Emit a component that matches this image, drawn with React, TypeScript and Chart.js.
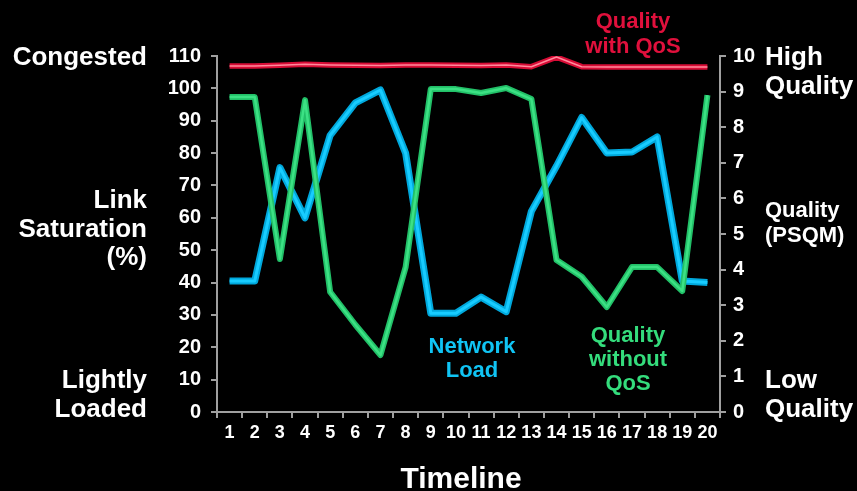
import React, { useEffect, useRef } from "react";
import { Chart, registerables } from "chart.js";

Chart.register(...registerables);

const timeline = ["1","2","3","4","5","6","7","8","9","10","11","12","13","14","15","16","17","18","19","20"];
const networkLoad = [40.5, 40.5, 75.5, 60, 85.5, 95.5, 99.5, 80, 30.5, 30.5, 35.5, 31, 62, 76, 91, 80, 80.3, 85, 40.5, 40];
const qualityWithoutQoS = [8.85, 8.85, 4.3, 8.76, 3.37, 2.45, 1.6, 4.07, 9.07, 9.07, 8.96, 9.1, 8.79, 4.27, 3.8, 2.95, 4.07, 4.07, 3.4, 8.9];
const qualityWithQoS = [9.72, 9.72, 9.74, 9.77, 9.75, 9.74, 9.73, 9.75, 9.75, 9.74, 9.73, 9.75, 9.7, 9.97, 9.7, 9.69, 9.69, 9.69, 9.69, 9.69];
const leftTicks = { min: 0, max: 110, step: 10 };
const rightTicks = { min: 0, max: 10, step: 1 };

const FONT = "'Liberation Sans', Arial, sans-serif";

const textPlugin = {
  id: "annotText",
  afterDraw(chart: any) {
    const ctx = chart.ctx;
    ctx.save();
    const put = (t: string, x: number, y: number, size: number, color: string, align: CanvasTextAlign) => {
      ctx.font = `bold ${size}px ${FONT}`;
      ctx.fillStyle = color;
      ctx.textAlign = align;
      ctx.textBaseline = "alphabetic";
      ctx.fillText(t, x, y);
    };
    const W = "#ffffff";
    put("Congested", 147, 65, 26, W, "right");
    put("Link", 147, 208, 26, W, "right");
    put("Saturation", 147, 237, 26, W, "right");
    put("(%)", 147, 265, 26, W, "right");
    put("Lightly", 147, 388, 26, W, "right");
    put("Loaded", 147, 417, 26, W, "right");
    put("High", 765, 65, 26, W, "left");
    put("Quality", 765, 94, 26, W, "left");
    put("Quality", 765, 217, 22, W, "left");
    put("(PSQM)", 765, 242, 22, W, "left");
    put("Low", 765, 388, 26, W, "left");
    put("Quality", 765, 417, 26, W, "left");
    put("Timeline", 461, 488, 30, W, "center");
    const R = "#E0103C";
    put("Quality", 633, 28, 22, R, "center");
    put("with QoS", 633, 53, 22, R, "center");
    const B = "#10C4F4";
    put("Network", 472, 353, 22, B, "center");
    put("Load", 472, 377, 22, B, "center");
    const G = "#34DC7C";
    put("Quality", 628, 342, 22, G, "center");
    put("without", 628, 366, 22, G, "center");
    put("QoS", 628, 390, 22, G, "center");
    ctx.restore();
  },
};

const bgPlugin = {
  id: "bg",
  beforeDraw(chart: any) {
    const ctx = chart.ctx;
    ctx.save();
    ctx.fillStyle = "#000";
    ctx.fillRect(0, 0, chart.width, chart.height);
    ctx.restore();
  },
};

export default function App() {
  const ref = useRef<HTMLCanvasElement | null>(null);
  useEffect(() => {
    document.body.style.margin = "0";
    document.body.style.background = "#000";
    if (!ref.current) return;
    const xTickFont = { family: FONT, size: 18, weight: "bold" as const };
    const yTickFont = { family: FONT, size: 20, weight: "bold" as const };
    const gray = "#A0A0A0";
    const line = (data: number[], color: string, width: number, axis: string, order: number) => ({
      data,
      borderColor: color,
      backgroundColor: color,
      borderWidth: width,
      pointRadius: 0,
      tension: 0,
      yAxisID: axis,
      order,
      borderJoinStyle: "round" as const,
      borderCapStyle: "butt" as const,
    });
    const chart = new Chart(ref.current, {
      type: "line",
      data: {
        labels: timeline,
        datasets: [
          line(qualityWithQoS, "#D80C36", 5.5, "y2", 6),
          line(qualityWithQoS, "#FF8A9C", 1.5, "y2", 5),
          line(networkLoad, "#00A8DC", 7, "y", 4),
          line(networkLoad, "#18CCFF", 3, "y", 3),
          line(qualityWithoutQoS, "#22C068", 6, "y2", 2),
          line(qualityWithoutQoS, "#3CE184", 2.5, "y2", 1),
        ],
      },
      options: {
        animation: false,
        responsive: false,
        maintainAspectRatio: false,
        layout: { padding: { top: 56, left: 0, right: 0, bottom: 0 } },
        plugins: { legend: { display: false }, tooltip: { enabled: false } },
        scales: {
          x: {
            type: "category",
            offset: true,
            grid: { display: true, drawOnChartArea: false, offset: true, tickLength: 6, color: gray, lineWidth: 2 },
            border: { display: true, color: gray, width: 2 },
            ticks: { color: "#fff", font: xTickFont, padding: 4, maxRotation: 0, autoSkip: false },
            afterFit: (s: any) => { s.height = 79; },
          },
          y: {
            position: "left",
            min: leftTicks.min,
            max: leftTicks.max,
            grid: { display: true, drawOnChartArea: false, tickLength: 6, color: gray, lineWidth: 2 },
            border: { display: true, color: gray, width: 2 },
            ticks: { stepSize: leftTicks.step, color: "#fff", font: yTickFont, padding: 10 },
            afterFit: (s: any) => { s.width = 217; },
          },
          y2: {
            position: "right",
            min: rightTicks.min,
            max: rightTicks.max,
            grid: { display: true, drawOnChartArea: false, tickLength: 6, color: gray, lineWidth: 2 },
            border: { display: true, color: gray, width: 2 },
            ticks: { stepSize: rightTicks.step, color: "#fff", font: yTickFont, padding: 7 },
            afterFit: (s: any) => { s.width = 137; },
          },
        },
      },
      plugins: [bgPlugin, textPlugin],
    });
    return () => chart.destroy();
  }, []);
  return (
    <div style={{ position: "absolute", left: 0, top: 0, width: 857, height: 491, background: "#000" }}>
      <canvas ref={ref} width={857} height={491} style={{ display: "block", width: 857, height: 491 }} />
    </div>
  );
}
